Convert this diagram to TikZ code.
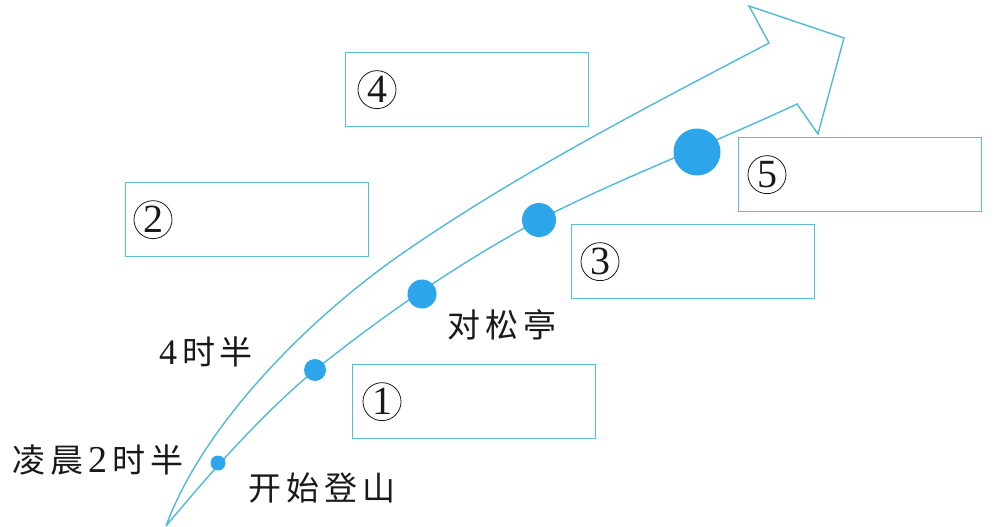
\documentclass[tikz,border=0pt]{standalone}
\usepackage{fontspec}
\newfontfamily\cjk{Noto Sans CJK SC}
\newfontfamily\digitfont{Liberation Serif}
\definecolor{arrowblue}{RGB}{80,185,215}
\definecolor{boxblue}{RGB}{90,190,215}
\definecolor{dotblue}{RGB}{45,165,235}
\definecolor{inkgray}{RGB}{25,25,25}
\newcommand{\hsp}{\hspace{5pt}}
\tikzset{
  answerbox/.style={draw=boxblue, line width=1.3pt, minimum width=243pt, minimum height=74pt, anchor=north west, inner sep=0pt},
  circnum/.style={circle, draw=inkgray, line width=0.8pt, minimum size=38pt, inner sep=0pt, text=inkgray, font=\digitfont\fontsize{40}{40}\selectfont},
  stopdot/.style={circle, fill=dotblue, inner sep=0pt},
  lbl/.style={inner sep=0pt, text=inkgray, font=\cjk\fontsize{33}{38}\selectfont},
  outline/.style={draw=arrowblue, line width=1.4pt, line join=miter}
}
\begin{document}
\begin{tikzpicture}[x=1pt,y=-1pt]
\useasboundingbox (0,0) rectangle (994,527);

% arrow outline
\draw[outline]
  (166,526) .. controls (204,423) and (310,318) .. (400,255)
            .. controls (515,175) and (645,108) .. (769,43)
  -- (749,6) -- (844,38) -- (818,134) -- (797,104)
  .. controls (712,144) and (622,177) .. (539,220)
  .. controls (455,265) and (380,318) .. (315,370)
  .. controls (260,416) and (212,471) .. (166,526);

% dots
\node[stopdot, minimum size=15pt] (d1) at (218,463) {};
\node[stopdot, minimum size=22pt] (d2) at (315,370) {};
\node[stopdot, minimum size=29pt] (d3) at (422,294) {};
\node[stopdot, minimum size=34pt] (d4) at (539,220) {};
\node[stopdot, minimum size=47pt] (d5) at (697,152) {};

% boxes
\node[answerbox] (b4) at (345,52) {};
\node[answerbox] (b5) at (738,137) {};
\node[answerbox] (b3) at (571,224) {};
\node[answerbox] (b2) at (125,182) {};
\node[answerbox] (b1) at (352,364) {};

% circled numbers
\node[circnum] (n1) at ([xshift=30pt]b1.west) {1};
\node[circnum] (n2) at ([xshift=28pt]b2.west) {2};
\node[circnum] (n3) at ([xshift=29pt]b3.west) {3};
\node[circnum] (n4) at ([xshift=32pt]b4.west) {4};
\node[circnum] (n5) at ([xshift=29pt]b5.west) {5};

% labels
\node[lbl] (t1) at (98,460) {凌\hsp 晨\hsp{\digitfont\fontsize{38}{38}\selectfont 2}\hsp 时\hsp 半};
\node[lbl] (t2) at (206,352) {{\digitfont\fontsize{36}{36}\selectfont 4}\hsp 时\hsp 半};
\node[lbl] (t3) at (322,488) {开\hsp 始\hsp 登\hsp 山};
\node[lbl] (t4) at (502,325) {对\hsp 松\hsp 亭};
\end{tikzpicture}
\end{document}
